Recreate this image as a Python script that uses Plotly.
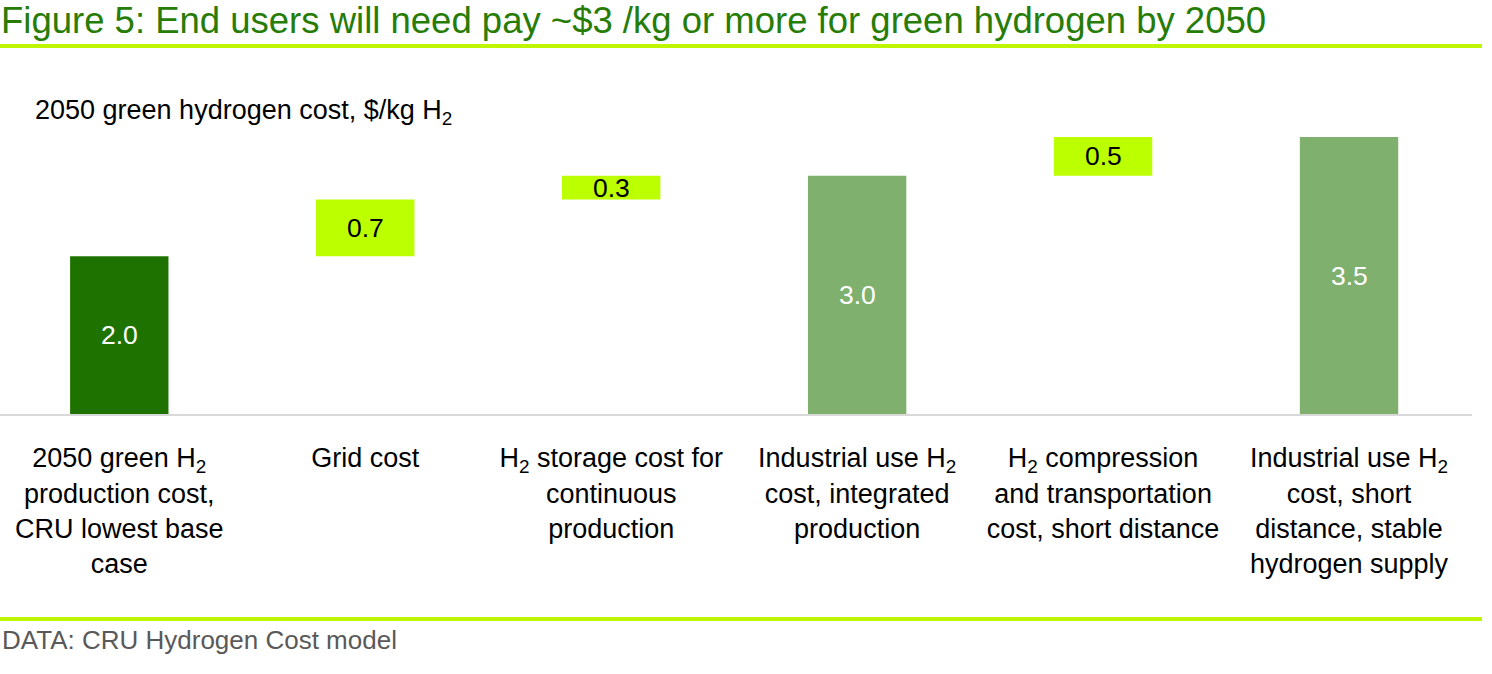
import plotly.graph_objects as go

categories = [
    "2050 green H<sub>2</sub><br>production cost,<br>CRU lowest base<br>case",
    "Grid cost",
    "H<sub>2</sub> storage cost for<br>continuous<br>production",
    "Industrial use H<sub>2</sub><br>cost, integrated<br>production",
    "H<sub>2</sub> compression<br>and transportation<br>cost, short distance",
    "Industrial use H<sub>2</sub><br>cost, short<br>distance, stable<br>hydrogen supply",
]
bar_bases = [0.0, 2.0, 2.72, 0.0, 3.02, 0.0]
bar_values = [2.0, 0.72, 0.30, 3.02, 0.49, 3.51]
value_labels = ["2.0", "0.7", "0.3", "3.0", "0.5", "3.5"]
bar_kinds = ["base", "step", "step", "total", "step", "total"]

FONT = "Liberation Sans, Arial, sans-serif"
kind_color = {"base": "#1e7300", "step": "#bbff00", "total": "#80b06e"}
kind_text = {"base": "#ffffff", "step": "#000000", "total": "#ffffff"}

W, H = 1492, 674
L, R, T, B = 0, 20, 130, 260
ph = H - T - B

fig = go.Figure()
fig.add_trace(go.Bar(
    x=list(range(len(categories))),
    y=bar_values,
    base=bar_bases,
    marker=dict(color=[kind_color[k] for k in bar_kinds], line=dict(width=0)),
    width=0.4,
    hoverinfo="skip",
    showlegend=False,
))

for i, (b, v, t, k) in enumerate(zip(bar_bases, bar_values, value_labels, bar_kinds)):
    fig.add_annotation(x=i, y=b + v / 2, text=t, showarrow=False,
                       font=dict(family=FONT, size=26.5, color=kind_text[k]),
                       xanchor="center", yanchor="middle")

def py(pix):
    return (H - B - pix) / ph

fig.add_annotation(xref="paper", yref="paper", x=0.0, y=py(21), xanchor="left", yanchor="middle",
                   text="Figure 5: End users will need pay ~$3 /kg or more for green hydrogen by 2050",
                   showarrow=False, font=dict(family=FONT, size=36.5, color="#267c05"), xshift=-1)
fig.add_annotation(xref="paper", yref="paper", x=33 / (W - L - R), y=py(112), xanchor="left", yanchor="middle",
                   text="2050 green hydrogen cost, $/kg H<sub>2</sub>",
                   showarrow=False, font=dict(family=FONT, size=27, color="#000000"))
fig.add_annotation(xref="paper", yref="paper", x=0.0, y=py(640), xanchor="left", yanchor="middle",
                   text="DATA: CRU Hydrogen Cost model",
                   showarrow=False, font=dict(family=FONT, size=26, color="#595959"))

for ypix in (46, 619):
    fig.add_shape(type="line", xref="paper", yref="paper", x0=-0.01, x1=1482 / (W - L - R),
                  y0=py(ypix), y1=py(ypix), line=dict(color="#bef500", width=4))

fig.update_layout(
    width=W, height=H,
    margin=dict(l=L, r=R, t=T, b=B, autoexpand=False),
    paper_bgcolor="white", plot_bgcolor="white",
    font=dict(family=FONT, size=27, color="#000000"),
    xaxis=dict(
        tickmode="array", tickvals=list(range(len(categories))), ticktext=categories,
        range=[-0.485, 5.5], showgrid=False, zeroline=False,
        showline=True, linecolor="#d9d9d9", linewidth=2,
        ticks="", tickfont=dict(family=FONT, size=27, color="#000000"),
        ticklabelstandoff=19,
    ),
    yaxis=dict(range=[0, 3.6], visible=False),
)

fig.write_html("out.html", config={"displayModeBar": False},
               post_script="document.body.style.margin='0';document.body.style.overflow='hidden';")
